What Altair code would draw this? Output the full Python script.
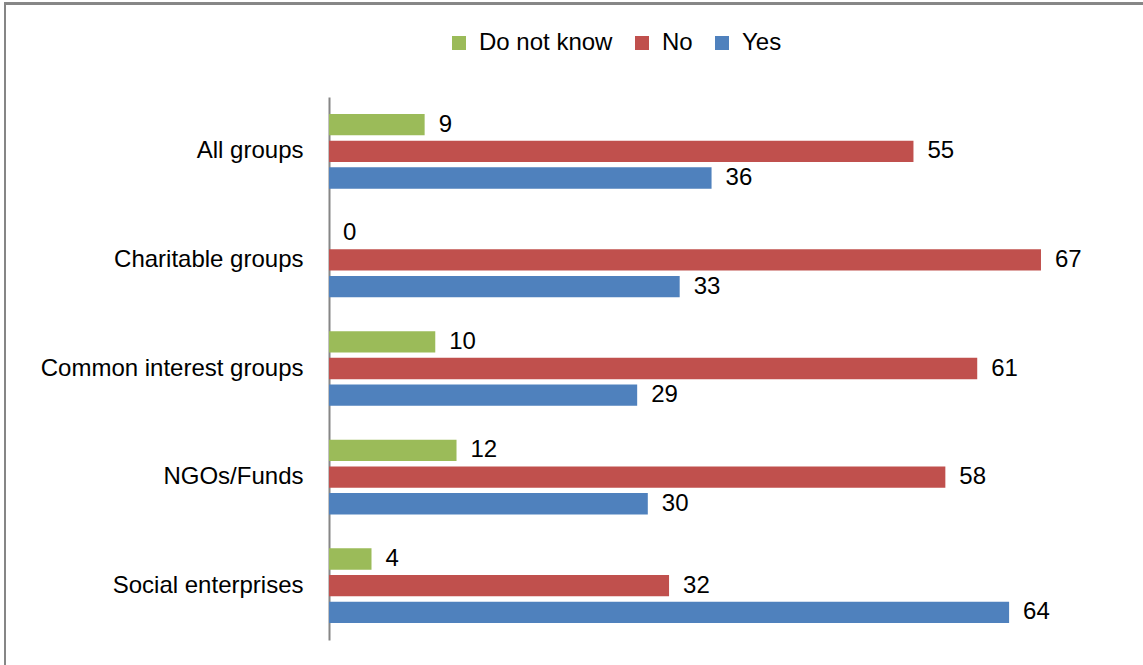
import altair as alt
import pandas as pd

categories = ["All groups", "Charitable groups", "Common interest groups", "NGOs/Funds", "Social enterprises"]
series = ["Do not know", "No", "Yes"]
do_not_know = [9, 0, 10, 12, 4]
no_vals = [55, 67, 61, 58, 32]
yes_vals = [36, 33, 29, 30, 64]
colors = ["#9BBB59", "#C0504D", "#4F81BD"]

rows = []
for i, c in enumerate(categories):
    for s, vals in zip(series, [do_not_know, no_vals, yes_vals]):
        rows.append({"category": c, "series": s, "value": vals[i]})
df = pd.DataFrame(rows)

FONT = "Liberation Sans"

y_enc = alt.Y("category:N", sort=categories, title=None,
              scale=alt.Scale(paddingInner=0, paddingOuter=0),
              axis=alt.Axis(ticks=False, labelPadding=26, labelFontSize=24, labelColor="black",
                            labelFont=FONT, labelLimit=0, domainColor="#868686", domainWidth=2))
yoff = alt.YOffset("series:N", sort=series,
                   scale=alt.Scale(paddingInner=0.2, paddingOuter=0.635))
x_enc = alt.X("value:Q", scale=alt.Scale(domain=[0, 75], nice=False), axis=None)

bars = alt.Chart(df).mark_bar().encode(
    y=y_enc, yOffset=yoff, x=x_enc,
    color=alt.Color("series:N", scale=alt.Scale(domain=series, range=colors),
                    legend=alt.Legend(title=None, orient="none", legendX=118, legendY=-66,
                                      direction="horizontal", symbolType="square",
                                      symbolSize=196, symbolStrokeWidth=0, labelFontSize=24,
                                      labelFont=FONT, labelColor="black", labelOffset=8,
                                      columnPadding=17)),
)

labels = alt.Chart(df).mark_text(align="left", baseline="middle", dx=14, fontSize=24,
                                 font=FONT, color="black").encode(
    y=alt.Y("category:N", sort=categories), yOffset=alt.YOffset("series:N", sort=series),
    x=alt.X("value:Q"), text=alt.Text("value:Q"),
)

frame = alt.Chart(df).mark_rect(filled=False, stroke="#868686", strokeWidth=2).encode(
    x=alt.value(-324), x2=alt.value(860), y=alt.value(-93.3), y2=alt.value(620)
)

chart = alt.layer(frame, bars, labels).properties(
    width=797, height=543,
    background="white",
    autosize=alt.AutoSizeParams(type="none"),
    padding={"left": 329, "top": 97, "right": 17, "bottom": 25},
).configure_view(stroke=None, strokeWidth=0)

chart.save("out.html", embed_options={"renderer": "svg", "actions": False})
